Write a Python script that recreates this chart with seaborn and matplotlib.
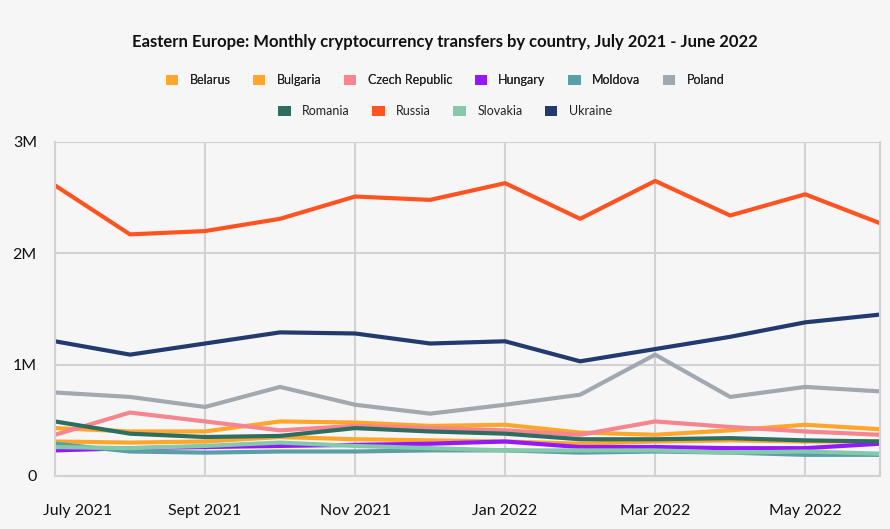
"""Eastern Europe monthly crypto transfers by country, line chart."""
import matplotlib
matplotlib.use("Agg")
import matplotlib.pyplot as plt
import matplotlib.transforms as mtransforms
from matplotlib.patches import Patch
import pandas as pd
import seaborn as sns

months = ["July 2021", "Aug 2021", "Sept 2021", "Oct 2021", "Nov 2021", "Dec 2021",
          "Jan 2022", "Feb 2022", "Mar 2022", "Apr 2022", "May 2022", "June 2022"]

# values in millions of USD
belarus = [0.43, 0.40, 0.40, 0.49, 0.48, 0.45, 0.46, 0.39, 0.37, 0.41, 0.46, 0.42]
bulgaria = [0.31, 0.30, 0.31, 0.35, 0.33, 0.32, 0.31, 0.29, 0.31, 0.32, 0.31, 0.31]
czech = [0.37, 0.57, 0.49, 0.41, 0.45, 0.43, 0.41, 0.37, 0.49, 0.44, 0.40, 0.37]
hungary = [0.23, 0.25, 0.26, 0.27, 0.28, 0.29, 0.31, 0.26, 0.26, 0.25, 0.25, 0.29]
moldova = [0.29, 0.22, 0.21, 0.22, 0.22, 0.23, 0.23, 0.21, 0.22, 0.21, 0.19, 0.19]
poland = [0.75, 0.71, 0.62, 0.80, 0.64, 0.56, 0.64, 0.73, 1.09, 0.71, 0.80, 0.76]
romania = [0.49, 0.38, 0.35, 0.36, 0.43, 0.40, 0.38, 0.33, 0.33, 0.34, 0.32, 0.31]
russia = [2.61, 2.17, 2.20, 2.31, 2.51, 2.48, 2.63, 2.31, 2.65, 2.34, 2.53, 2.27]
slovakia = [0.26, 0.25, 0.27, 0.30, 0.27, 0.25, 0.23, 0.23, 0.23, 0.21, 0.22, 0.20]
ukraine = [1.21, 1.09, 1.19, 1.29, 1.28, 1.19, 1.21, 1.03, 1.14, 1.25, 1.38, 1.45]

countries = ["Belarus", "Bulgaria", "Czech Republic", "Hungary", "Moldova", "Poland",
             "Romania", "Russia", "Slovakia", "Ukraine"]
series = [belarus, bulgaria, czech, hungary, moldova, poland,
          romania, russia, slovakia, ukraine]
colors = ["#ffa62b", "#ffa62b", "#f5868f", "#9418fb", "#5a9ea8", "#a1a8b0",
          "#2e6e60", "#ff5421", "#84c9aa", "#223a6e"]
palette = dict(zip(countries, colors))

y_ticks = [0, 1, 2, 3]
y_labels = ["0", "1M", "2M", "3M"]

rows = []
for name, vals in zip(countries, series):
    for i, v in enumerate(vals):
        rows.append({"idx": i, "country": name, "transfers": v})
df = pd.DataFrame(rows)

sns.set_theme(style="white")
plt.rcParams["font.family"] = ["Lato", "DejaVu Sans"]
bg = "#f6f6f6"

fig = plt.figure(figsize=(8.9, 5.29), dpi=100, facecolor=bg)
ax = fig.add_axes([0.0618, 0.1002, 0.9272, 0.6314], facecolor=bg)

sns.lineplot(data=df, x="idx", y="transfers", hue="country", hue_order=countries,
             palette=palette, linewidth=3, legend=False, ax=ax)

ax.set_xlim(0, len(months) - 1)
ax.set_ylim(0, 3)
xt = list(range(0, len(months), 2))
ax.set_xticks(xt)
ax.set_xticklabels([months[i] for i in xt], fontsize=11.5, color="#111111")
ax.set_yticks(y_ticks)
ax.set_yticklabels(y_labels, fontsize=11.5, color="#111111")
ax.tick_params(axis="x", length=0, pad=20)
ax.tick_params(axis="y", length=0, pad=13)
ax.grid(True, color="#d2d2d2", linewidth=1.5)
ax.set_axisbelow(True)
for side in ["left", "bottom", "right", "top"]:
    ax.spines[side].set_color("#d2d2d2")
    ax.spines[side].set_linewidth(1.5)
ax.spines["top"].set_visible(False)
ax.set_xlabel("")
ax.set_ylabel("")

# first label is pushed inside the figure, like the original
first = ax.get_xticklabels()[0]
first.set_ha("left")
first.set_transform(first.get_transform() +
                    mtransforms.ScaledTranslation(-12 / 100, 0, fig.dpi_scale_trans))

fig.text(0.5, 1 - 42 / 529, "Eastern Europe: Monthly cryptocurrency transfers by country, July 2021 - June 2022",
         ha="center", va="center", fontsize=12, fontweight="bold", color="#111111")

handles = [Patch(facecolor=palette[c], edgecolor="none", label=c) for c in countries]
leg_kw = dict(frameon=False, fontsize=9, handlelength=1.0, handleheight=0.9,
              handletextpad=0.9, columnspacing=1.8, loc="center", labelcolor="#222222")
leg1 = fig.legend(handles=handles[:6], ncol=6, bbox_to_anchor=(0.5, 1 - 80 / 529), **leg_kw)
fig.add_artist(leg1)
fig.legend(handles=handles[6:], ncol=4, bbox_to_anchor=(0.5, 1 - 111 / 529), **leg_kw)

fig.savefig("out.png", dpi=100, facecolor=bg)
